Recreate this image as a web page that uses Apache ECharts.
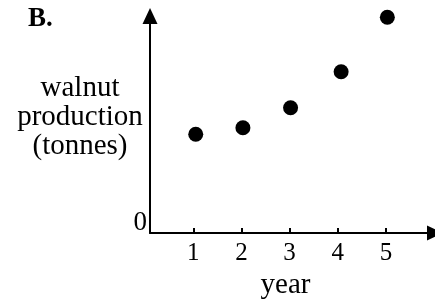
<!DOCTYPE html>
<html>
<head>
    <meta charset="UTF-8">
    <title>walnut production</title>
    <script src="https://cdn.jsdelivr.net/npm/echarts@6/dist/echarts.min.js"></script>
    <style>
        html, body { margin: 0; padding: 0; background: #fff; }
        #chart { width: 435px; height: 302px; }
    </style>
</head>
<body>
<div id="chart"></div>
<script>
    // data (y in arbitrary units, 0..10)
    var years = [1.05, 2.03, 3.02, 4.07, 5.03];
    var production = [4.55, 4.85, 5.77, 7.43, 9.94];
    var yearTicks = [1, 2, 3, 4, 5];
    var zeroTick = [0];

    var serif = "'Liberation Serif', 'Times New Roman', serif";

    var points = [];
    for (var i = 0; i < years.length; i++) {
        points.push([years[i], production[i]]);
    }

    var myChart = echarts.init(document.getElementById('chart'));
    var option = {
        animation: false,
        title: [
            {
                text: 'B.',
                left: 28, top: 6, padding: 0,
                textStyle: { fontFamily: serif, fontSize: 27, fontWeight: 'bold', color: '#000' }
            },
            {
                text: 'walnut\nproduction\n(tonnes)',
                left: 80, top: 74, padding: 0,
                textAlign: 'center',
                textStyle: { fontFamily: serif, fontSize: 29, fontWeight: 'normal', lineHeight: 29, color: '#000' }
            }
        ],
        grid: { left: 150, right: 0, top: 16, bottom: 69, containLabel: false, outerBoundsMode: 'none' },
        xAxis: {
            type: 'value',
            min: 0.1, max: 6.02,
            name: 'year',
            nameLocation: 'middle',
            nameGap: 33,
            nameTextStyle: { fontFamily: serif, fontSize: 29, color: '#000', padding: [0, 14, 0, 0] },
            splitLine: { show: false },
            axisLine: {
                lineStyle: { color: '#000', width: 2 },
                symbol: ['none', 'triangle'],
                symbolSize: [15, 16]
            },
            axisTick: {
                show: true, inside: true, length: 5,
                customValues: yearTicks,
                lineStyle: { color: '#000', width: 2 }
            },
            axisLabel: {
                customValues: yearTicks,
                margin: 8,
                fontFamily: serif, fontSize: 25, color: '#000'
            }
        },
        yAxis: {
            type: 'value',
            min: 0, max: 10,
            splitLine: { show: false },
            axisLine: {
                lineStyle: { color: '#000', width: 2 },
                symbol: ['none', 'triangle'],
                symbolSize: [15, 16]
            },
            axisTick: { show: false },
            axisLabel: {
                customValues: zeroTick,
                margin: 3,
                verticalAlign: 'bottom',
                padding: [0, 0, -3, 0],
                fontFamily: serif, fontSize: 27, color: '#000'
            }
        },
        series: [
            {
                type: 'scatter',
                data: points,
                symbol: 'circle',
                symbolSize: 15,
                itemStyle: { color: '#000', opacity: 1 }
            }
        ]
    };
    myChart.setOption(option);
</script>
</body>
</html>
